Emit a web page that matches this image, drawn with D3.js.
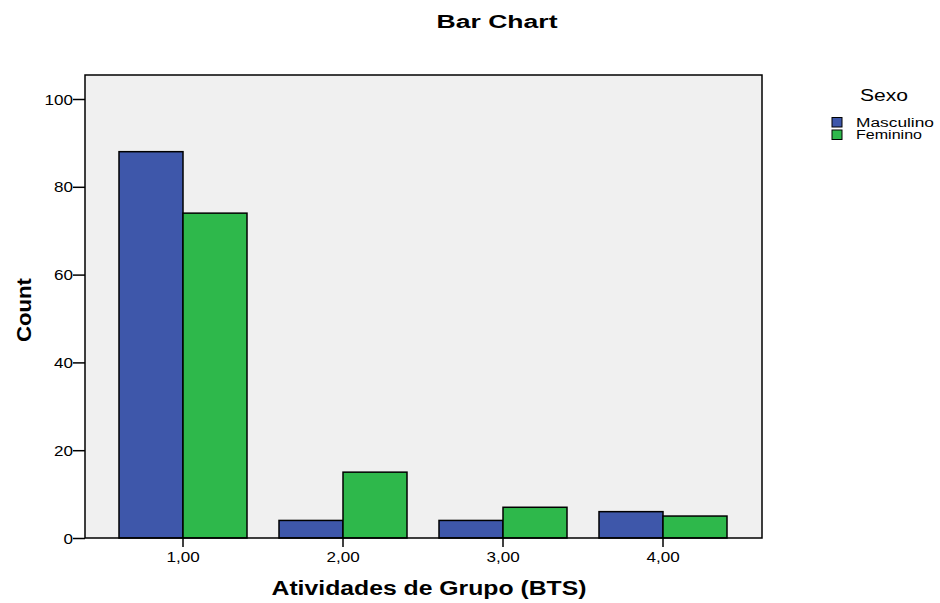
<!DOCTYPE html>
<html>
<head>
<meta charset="utf-8">
<script src="https://cdn.jsdelivr.net/npm/d3@7"></script>
<style>
  body { margin: 0; background: #fff; }
  svg text { font-family: "Liberation Sans", Arial, sans-serif; fill: #000; }
</style>
</head>
<body>
<svg width="940" height="603"></svg>
<script>
// **** Data ****
var categories = ['1,00', '2,00', '3,00', '4,00'];
var groups = ['Masculino', 'Feminino'];
var masculino = [88, 4, 4, 6];
var feminino = [74, 15, 7, 5];
var yTicks = [0, 20, 40, 60, 80, 100];
var colors = ['#3e57aa', '#2eb84b'];

var svg = d3.select('svg');

// plot frame (note: "top" is taken by window.top)
var plotLeft = 85, plotRight = 762, plotTop = 75, plotBottom = 538;

var yScale = d3.scaleLinear().domain([0, 100]).range([plotBottom, 99]);

var xScale = d3.scaleBand()
    .domain(categories)
    .range([plotLeft + 18, plotRight - 19])
    .paddingInner(0.2)
    .paddingOuter(0.1);

var subScale = d3.scaleBand()
    .domain(groups)
    .range([0, xScale.bandwidth()]);

// the original is stretched sideways, so widen glyphs by a factor
function stretch(sel, factor) {
    sel.each(function() {
        var w = this.getComputedTextLength();
        d3.select(this)
            .attr('textLength', w * factor)
            .attr('lengthAdjust', 'spacingAndGlyphs');
    });
}

svg.append('rect')
    .attr('x', plotLeft).attr('y', plotTop)
    .attr('width', plotRight - plotLeft).attr('height', plotBottom - plotTop)
    .attr('fill', '#f0f0f0');

// bars
var rows = categories.map(function(c, i) {
    return { cat: c, values: [masculino[i], feminino[i]] };
});

var catG = svg.selectAll('g.cat')
    .data(rows)
    .enter()
    .append('g')
    .attr('class', 'cat')
    .attr('transform', function(d) { return 'translate(' + xScale(d.cat) + ',0)'; });

catG.selectAll('rect')
    .data(function(d) { return d.values.map(function(v, j) { return { g: groups[j], v: v, j: j }; }); })
    .enter()
    .append('rect')
    .attr('x', function(d) { return subScale(d.g); })
    .attr('y', function(d) { return yScale(d.v); })
    .attr('width', subScale.bandwidth())
    .attr('height', function(d) { return plotBottom - yScale(d.v); })
    .attr('fill', function(d) { return colors[d.j]; })
    .attr('stroke', '#000')
    .attr('stroke-width', 1.5);

// frame on top
svg.append('rect')
    .attr('x', plotLeft).attr('y', plotTop)
    .attr('width', plotRight - plotLeft).attr('height', plotBottom - plotTop)
    .attr('fill', 'none')
    .attr('stroke', '#000')
    .attr('stroke-width', 1.5);

// axes
var yAxis = svg.append('g')
    .attr('transform', 'translate(' + plotLeft + ',0)')
    .call(d3.axisLeft(yScale).tickValues(yTicks).tickSize(12).tickSizeOuter(0).tickPadding(0));

var xAxis = svg.append('g')
    .attr('transform', 'translate(0,' + plotBottom + ')')
    .call(d3.axisBottom(xScale).tickSize(9).tickSizeOuter(0).tickPadding(4));

[yAxis, xAxis].forEach(function(a) {
    a.select('.domain').remove();
    a.selectAll('.tick line').attr('stroke', '#000').attr('stroke-width', 1.5);
    a.selectAll('.tick text')
        .style('font-family', '"Liberation Sans", Arial, sans-serif')
        .style('font-size', '14px')
        .call(stretch, 1.22);
});
yAxis.selectAll('.tick text').attr('dy', '0.36em');
xAxis.selectAll('.tick text').attr('dy', '0.8em');

// Title of the graph
svg.append('text')
    .attr('x', 497).attr('y', 28)
    .attr('text-anchor', 'middle')
    .style('font-size', '18px')
    .style('font-weight', 'bold')
    .attr('textLength', 121)
    .attr('lengthAdjust', 'spacingAndGlyphs')
    .text('Bar Chart');

// x-axis label
svg.append('text')
    .attr('x', 429).attr('y', 595)
    .attr('text-anchor', 'middle')
    .style('font-size', '19.5px')
    .style('font-weight', 'bold')
    .attr('textLength', 315)
    .attr('lengthAdjust', 'spacingAndGlyphs')
    .text('Atividades de Grupo (BTS)');

// y-axis label
svg.append('text')
    .attr('transform', 'translate(31,310) rotate(-90)')
    .attr('text-anchor', 'middle')
    .style('font-size', '21px')
    .style('font-weight', 'bold')
    .attr('textLength', 64)
    .attr('lengthAdjust', 'spacingAndGlyphs')
    .text('Count');

// legend
svg.append('text')
    .attr('x', 860).attr('y', 100.5)
    .style('font-size', '16px')
    .attr('textLength', 48)
    .attr('lengthAdjust', 'spacingAndGlyphs')
    .text('Sexo');

var leg = svg.selectAll('g.leg')
    .data(groups)
    .enter()
    .append('g')
    .attr('class', 'leg')
    .attr('transform', function(d, i) { return 'translate(832,' + (117.5 + i * 12.5) + ')'; });

leg.append('rect')
    .attr('width', 10).attr('height', 9.5)
    .attr('fill', function(d, i) { return colors[i]; })
    .attr('stroke', '#000')
    .attr('stroke-width', 1);

leg.append('text')
    .attr('x', 24).attr('y', 9.3)
    .style('font-size', '12.5px')
    .attr('textLength', function(d, i) { return i === 0 ? 78 : 66; })
    .attr('lengthAdjust', 'spacingAndGlyphs')
    .text(function(d) { return d; });
</script>
</body>
</html>
